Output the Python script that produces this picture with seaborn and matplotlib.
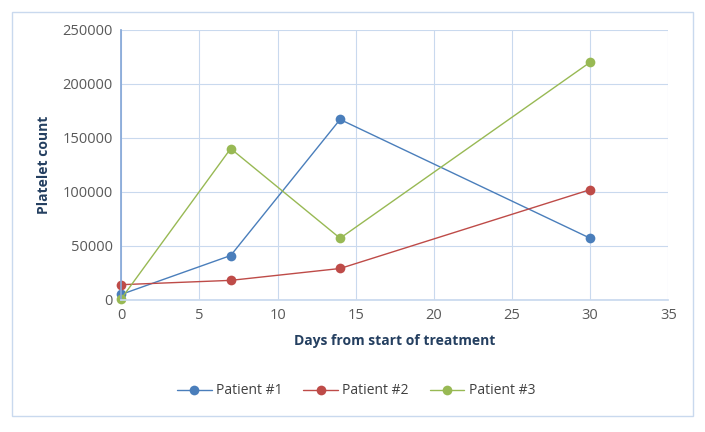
import numpy as np
import pandas as pd
import matplotlib
matplotlib.use("Agg")
import matplotlib.pyplot as plt
from matplotlib.patches import Rectangle
import seaborn as sns

# ── Data ─────────────────────────────────────────────────────────
days = [0, 7, 14, 30]
patient_1 = [5000, 41000, 167000, 57000]
patient_2 = [14000, 18000, 29000, 102000]
patient_3 = [1000, 140000, 57000, 220000]
names = ["Patient #1", "Patient #2", "Patient #3"]
colors = ["#4a7ebb", "#be4b48", "#98b954"]

df = pd.DataFrame({
    "day": days * 3,
    "count": patient_1 + patient_2 + patient_3,
    "patient": [n for n in names for _ in days],
})

# ── Plot ─────────────────────────────────────────────────────────
sns.set_theme(style="white")
plt.rcParams["font.family"] = ["Open Sans", "DejaVu Sans"]

fig = plt.figure(figsize=(7.05, 4.32), dpi=100)
ax = fig.add_axes([0.172, 0.306, 0.776, 0.625])

sns.lineplot(data=df, x="day", y="count", hue="patient", palette=colors,
             marker="o", markersize=7, markeredgewidth=0, linewidth=1.0,
             ax=ax)

ax.set_xlim(0, 35)
ax.set_ylim(0, 250000)
ax.set_xticks(range(0, 36, 5))
ax.set_yticks(range(0, 250001, 50000))
ax.grid(True, color="#c9d9ee", linewidth=0.8)
ax.tick_params(colors="#595959", labelsize=10.5, length=0, pad=6)
for s in ["top", "right"]:
    ax.spines[s].set_visible(False)
ax.spines["left"].set_color("#86a8d8")
ax.spines["bottom"].set_color("#c9d9ee")
ax.set_xlabel("Days from start of treatment", fontsize=10,
              fontweight="bold", color="#243f60", labelpad=8)
ax.set_ylabel("Platelet count", fontsize=10, fontweight="bold",
              color="#243f60", labelpad=8)
for ln in ax.lines:
    ln.set_clip_on(False)

handles, labels = ax.get_legend_handles_labels()
ax.legend(handles, labels, loc="center", bbox_to_anchor=(0.505, 0.095),
          bbox_transform=fig.transFigure, ncol=3, frameon=False,
          fontsize=10, labelcolor="#404040", handlelength=2.5,
          columnspacing=1.5, handletextpad=0.3)

fig.patches.append(Rectangle((12 / 705, 1 - 416 / 432), 681 / 705, 404 / 432,
                             transform=fig.transFigure, fill=False,
                             edgecolor="#c9d9ee", linewidth=1))

fig.savefig("out.png", dpi=100)
plt.close()
